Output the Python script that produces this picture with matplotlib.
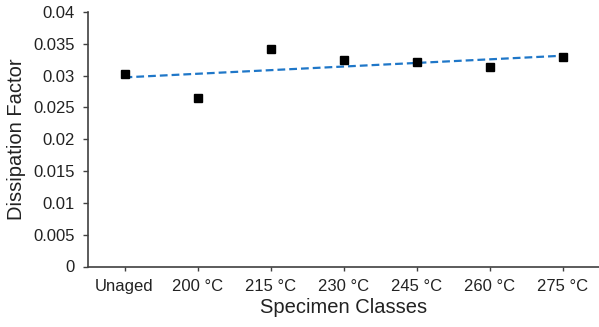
import numpy as np
import matplotlib
matplotlib.use('Agg')
import matplotlib.pyplot as plt

plt.rcParams['font.family'] = ['Liberation Sans', 'DejaVu Sans']

# 데이터
classes = ['Unaged', '200 °C', '215 °C', '230 °C', '245 °C', '260 °C', '275 °C']
dissipation = [0.0303, 0.0265, 0.0342, 0.0324, 0.0322, 0.0314, 0.0330]

x = np.arange(1, len(classes) + 1)

fig = plt.figure(figsize=(5.99, 3.27), dpi=100)
ax = fig.add_axes([88 / 599, 60.5 / 327, 511.5 / 599, 254.5 / 327])

# 추세선 (선형)
coef = np.polyfit(x, dissipation, 1)
ax.plot(x, np.polyval(coef, x), color='#1F77C8', lw=1.6, dashes=(3.5, 1.8), zorder=2)

# 측정값
ax.plot(x, dissipation, 's', color='black', markersize=5.8, zorder=3)

ax.set_xlim(0.5, 7.5)
ax.set_ylim(0, 0.04)
ax.set_yticks(np.arange(0, 0.0401, 0.005))
ax.set_yticklabels(['0', '0.005', '0.01', '0.015', '0.02', '0.025', '0.03', '0.035', '0.04'])
ax.set_xticks(x)
ax.set_xticklabels(classes)

for s in ['top', 'right']:
    ax.spines[s].set_visible(False)
for s in ['left', 'bottom']:
    ax.spines[s].set_color('#404040')
    ax.spines[s].set_linewidth(1.2)

ax.tick_params(axis='y', length=3.5, width=1, color='#404040', pad=6, labelsize=12, labelcolor='#222222')
ax.tick_params(axis='x', length=3, width=1, color='#404040', pad=6, labelsize=12, labelcolor='#222222')

ax.set_xlabel('Specimen Classes', fontsize=14.5, color='#222222', labelpad=3)
ax.set_ylabel('Dissipation Factor', fontsize=14.5, color='#222222', labelpad=5)

fig.savefig('out.png', dpi=100)
